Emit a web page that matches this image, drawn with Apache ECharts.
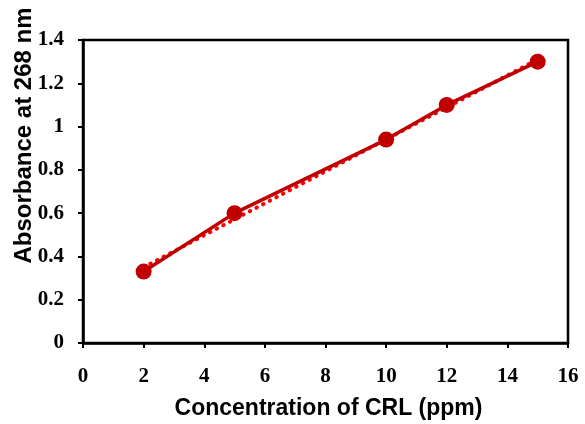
<!DOCTYPE html>
<html>
<head>
<meta charset="utf-8">
<script src="https://cdn.jsdelivr.net/npm/echarts@6/dist/echarts.min.js"></script>
<style>
  html, body { margin: 0; padding: 0; background: #fff; }
  #main { width: 585px; height: 424px; }
</style>
</head>
<body>
<div id="main"></div>
<script>
// calibration points
var concData = [2, 5, 10, 12, 15];
var absData = [0.33, 0.60, 0.94, 1.10, 1.30];
// end points of the dotted trend line
var trendX = [2, 15];
var trendY = [0.35, 1.31];

var xTicks = [0, 2, 4, 6, 8, 10, 12, 14, 16];
var yTicks = [0, 0.2, 0.4, 0.6, 0.8, 1, 1.2, 1.4];

var dom = document.getElementById('main');
var chart = echarts.init(dom, null, { renderer: 'canvas' });

var points = concData.map(function (x, i) { return [x, absData[i]]; });
var trend = trendX.map(function (x, i) { return [x, trendY[i]]; });

var tickFont = {
    fontFamily: 'Liberation Serif',
    fontWeight: 'bold',
    fontSize: 21,
    color: '#000'
};

var option = {
    animation: false,
    backgroundColor: '#fff',
    grid: {
        left: 83,
        right: 17,
        top: 40,
        bottom: 81,
        outerBoundsMode: 'none',
        containLabel: false,
        show: true,
        borderColor: '#000',
        borderWidth: 2.5,
        backgroundColor: 'transparent'
    },
    xAxis: {
        type: 'value',
        min: xTicks[0],
        max: xTicks[xTicks.length - 1],
        interval: 2,
        name: 'Concentration of CRL (ppm)',
        nameLocation: 'middle',
        nameGap: 54,
        nameMoveOverlap: false,
        nameTextStyle: {
            fontFamily: 'Liberation Sans',
            fontWeight: 'bold',
            fontSize: 23,
            color: '#000',
            padding: [0, 0, 0, 6]
        },
        axisLine: { show: true, onZero: false, lineStyle: { color: '#000', width: 2.5 } },
        axisTick: { show: true, inside: false, length: 5, lineStyle: { color: '#000', width: 2 } },
        axisLabel: Object.assign({ margin: 23 }, tickFont),
        splitLine: { show: false }
    },
    yAxis: {
        type: 'value',
        min: yTicks[0],
        max: yTicks[yTicks.length - 1],
        interval: 0.2,
        name: 'Absorbance at 268 nm',
        nameLocation: 'middle',
        nameGap: 47,
        nameMoveOverlap: false,
        nameTextStyle: {
            fontFamily: 'Liberation Sans',
            fontWeight: 'bold',
            fontSize: 24,
            color: '#000',
            padding: [0, 0, 0, 112]
        },
        axisLine: { show: true, onZero: false, lineStyle: { color: '#000', width: 2.5 } },
        axisTick: { show: true, inside: false, length: 5, lineStyle: { color: '#000', width: 2 } },
        axisLabel: Object.assign({ margin: 19 }, tickFont),
        splitLine: { show: false }
    },
    series: [
        {
            name: 'Trend',
            type: 'line',
            data: trend,
            symbol: 'none',
            z: 1,
            lineStyle: { color: '#FF0000', width: 4, type: [0.5, 7], cap: 'round' }
        },
        {
            name: 'Absorbance',
            type: 'line',
            data: points,
            symbol: 'circle',
            symbolSize: 16,
            z: 2,
            itemStyle: { color: '#C00000' },
            lineStyle: { color: '#C00000', width: 3.5 }
        }
    ]
};

chart.setOption(option);
</script>
</body>
</html>
